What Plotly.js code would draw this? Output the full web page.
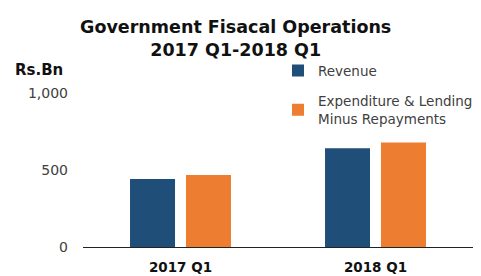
<!DOCTYPE html>
<html><head><meta charset="utf-8">
<script src="https://cdn.plot.ly/plotly-3.0.1.min.js"></script>
<style>html,body{margin:0;padding:0;background:#fff}#chart{width:481px;height:276px}</style>
</head><body><div id="chart"></div>
<script>
const categories = ['2017 Q1', '2018 Q1'];
const revenue = [441, 642];
const expenditure = [467, 678];
const seriesNames = ['Revenue', 'Expenditure & Lending<br>Minus Repayments'];
const yTicks = [0, 500, 1000];
const yTickLabels = ['0', '500', '1,000'];

const FONT = 'DejaVu Sans, sans-serif';
const data = [
  {type:'bar', x:categories, y:revenue, name:seriesNames[0], marker:{color:'#1F4E79'}, legendgroup:'a'},
  {type:'bar', x:categories, y:expenditure, name:seriesNames[1], marker:{color:'#ED7D31'}, legendgroup:'b'}
];
const layout = {
  width:481, height:276,
  margin:{l:83, r:8, t:93, b:28.5, autoexpand:false},
  paper_bgcolor:'#fff', plot_bgcolor:'#fff',
  font:{family:FONT, color:'#404040', size:14},
  title:{text:'<b>Government Fisacal Operations<br>2017 Q1-2018 Q1</b>', font:{family:FONT, size:17.5, color:'#111'},
         x:0.49, xanchor:'center', yref:'container', y:1-33/276, yanchor:'middle'},
  barmode:'group', bargap:0.426, bargroupgap:0.196,
  xaxis:{showline:true, linecolor:'#222', linewidth:1, ticks:'', showgrid:false, zeroline:false,
         tickfont:{family:FONT, size:13.5, color:'#111', weight:'bold'}, ticklabelstandoff:8},
  yaxis:{range:[0,1000], tickvals:yTicks, ticktext:yTickLabels, showgrid:false, zeroline:false, showline:false,
         ticks:'', ticklabelstandoff:14, tickfont:{family:FONT, size:14, color:'#404040'}},
  legend:{x:0.50, xanchor:'left', y:1.245, yanchor:'top', bgcolor:'rgba(0,0,0,0)', font:{family:FONT, size:13.5, color:'#404040'}, tracegroupgap:10},
  showlegend:true,
  annotations:[{text:'<b>Rs.Bn</b>', xref:'paper', yref:'paper', x:-0.18, y:1.15, xanchor:'left', yanchor:'middle', showarrow:false, font:{family:FONT, size:15, color:'#111'}}]
};
Plotly.newPlot('chart', data, layout, {displayModeBar:false, staticPlot:true});
</script></body></html>
